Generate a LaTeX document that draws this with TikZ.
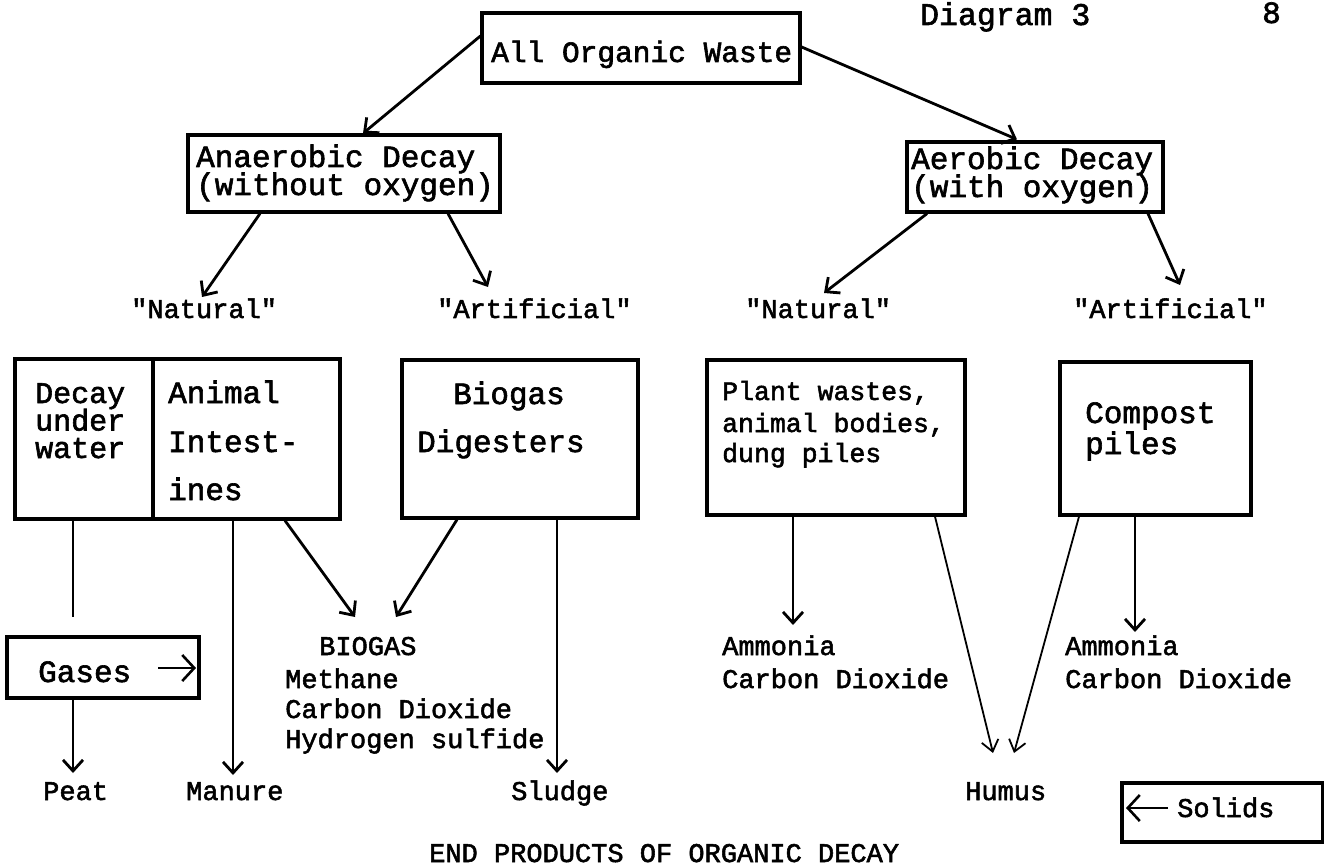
\documentclass[tikz,border=0pt]{standalone}
\usepackage{fontspec}
\newfontfamily\twfont[FakeBold=2]{Liberation Mono}
\usetikzlibrary{arrows.meta,calc}
\newcommand\picafont{\twfont\fontsize{31}{31}\selectfont}
\newcommand\elitefont{\twfont\fontsize{27}{27}\selectfont}
\begin{document}
\begin{tikzpicture}[x=1pt,y=-1pt,
  box/.style={draw, line width=3.2pt, inner sep=0pt},
  lbl/.style={inner sep=0pt, anchor=base west},
  pl/.style={lbl, font=\picafont},
  el/.style={lbl, font=\elitefont},
  arr/.style={line width=2.8pt, -{Straight Barb[length=11pt,width=20pt]}},
  thinarr/.style={line width=1.8pt, -{Straight Barb[length=11pt,width=17pt]}},
  symarr/.style={line width=2.6pt, -{Straight Barb[length=12pt,width=26pt]}},
  plainline/.style={line width=2.8pt}]
\useasboundingbox (0,0) rectangle (1324,866);

% title
\node[lbl, font=\twfont\fontsize{31.5}{31.5}\selectfont] (tdia) at (920,25) {Diagram 3};
\node[pl] (tpage) at (1262,23) {8};

% boxes
\node[box, minimum width=318pt, minimum height=70pt] (aow) at (641,48) {};
\node[box, minimum width=312pt, minimum height=77pt] (ana) at (344,173.5) {};
\node[box, minimum width=256pt, minimum height=70pt] (aer) at (1035,177) {};
\node[box, minimum width=138pt, minimum height=160pt] (duw) at (84,439) {};
\node[box, minimum width=187pt, minimum height=160pt] (ani) at (246.5,439) {};
\node[box, minimum width=236pt, minimum height=158pt] (bgd) at (520,439) {};
\node[box, minimum width=258pt, minimum height=155pt] (pla) at (836,437.5) {};
\node[box, minimum width=191pt, minimum height=153pt] (com) at (1155.5,438.5) {};
\node[box, minimum width=192pt, minimum height=61pt] (gas) at (103,667.5) {};
\node[box, minimum width=201pt, minimum height=59pt] (sol) at (1222.5,812.5) {};

% box texts
\node[lbl, font=\twfont\fontsize{29.5}{29.5}\selectfont] (taow) at (491,62) {All Organic Waste};
\node[pl] (tana1) at (196,167) {Anaerobic Decay};
\node[pl] (tana2) at (196,195) {(without oxygen)};
\node[pl] (taer1) at (911,169) {Aerobic Decay};
\node[pl] (taer2) at (911,197) {(with oxygen)};
\node[lbl, font=\twfont\fontsize{30}{30}\selectfont] (tduw1) at (35,403) {Decay};
\node[lbl, font=\twfont\fontsize{30}{30}\selectfont] (tduw2) at (35,430.5) {under};
\node[lbl, font=\twfont\fontsize{30}{30}\selectfont] (tduw3) at (35,458) {water};
\node[pl] (tani1) at (168,403) {Animal};
\node[pl] (tani2) at (168,452) {Intest-};
\node[pl] (tani3) at (168,500) {ines};
\node[pl] (tbgd1) at (453,404) {Biogas};
\node[pl] (tbgd2) at (417,452) {Digesters};
\node[lbl, font=\twfont\fontsize{26.5}{26.5}\selectfont] (tpla1) at (722,400) {Plant wastes,};
\node[lbl, font=\twfont\fontsize{26.5}{26.5}\selectfont] (tpla2) at (722,432) {animal bodies,};
\node[lbl, font=\twfont\fontsize{26.5}{26.5}\selectfont] (tpla3) at (722,462) {dung piles};
\node[pl] (tcom1) at (1085,423) {Compost};
\node[pl] (tcom2) at (1085,454) {piles};
\node[pl] (tgas) at (38,682) {Gases};
\node[el] (tsol) at (1177,817) {Solids};

% labels
\node[el] (natL) at (131,318) {"Natural"};
\node[el] (artL) at (437,318) {"Artificial"};
\node[el] (natR) at (745,318) {"Natural"};
\node[el] (artR) at (1073,318) {"Artificial"};

% end products
\node[el] (bg) at (319,655) {BIOGAS};
\node[el] (bg2) at (285,688) {Methane};
\node[el] (bg3) at (285,718) {Carbon Dioxide};
\node[el] (bg4) at (285,748) {Hydrogen sulfide};
\node[el] (amm1) at (722,655) {Ammonia};
\node[el] (amm1b) at (722,688) {Carbon Dioxide};
\node[el] (amm2) at (1065,655) {Ammonia};
\node[el] (amm2b) at (1065,688) {Carbon Dioxide};
\node[el] (peat) at (43,800) {Peat};
\node[el] (manure) at (186,800) {Manure};
\node[el] (sludge) at (511,800) {Sludge};
\node[el] (humus) at (965,800) {Humus};
\node[el] (caption) at (429,862) {END PRODUCTS OF ORGANIC DECAY};

% connectors
\draw[arr] ($(aow.west)+(0,-12)$) -- ($(ana.north)+(19,0)$);
\draw[arr] ($(aow.east)+(0,-1)$) -- ($(aer.north)+(-18,-1)$);
\draw[arr] ($(ana.south)+(-84,0)$) -- ($(natL.base west)+(71,-21)$);
\draw[arr] ($(ana.south)+(104,0)$) -- ($(artL.base west)+(51,-31)$);
\draw[arr] ($(aer.south)+(-108,0)$) -- ($(natR.base west)+(79,-25)$);
\draw[arr] ($(aer.south)+(113,0)$) -- ($(artR.base west)+(107,-33)$);

\coordinate (gq) at (73,617);
\draw[plainline] ($(duw.south)+(-11,0)$) -- (gq);
\draw[arr] ($(gas.south)+(-30,0)$) -- ($(peat.base west)+(30,-27)$);
\draw[arr] ($(ani.south)+(-13.5,0)$) -- ($(manure.base west)+(47,-25)$);
\draw[arr] ($(ani.south)+(38.5,0)$) -- ($(bg.base west)+(36,-38)$);
\draw[arr] ($(bgd.south)+(-63,0)$) -- ($(bg.base west)+(77,-38)$);
\draw[arr] ($(bgd.south)+(37,0)$) -- ($(sludge.base west)+(46,-27)$);
\draw[arr] ($(pla.south)+(-43,0)$) -- ($(amm1.base west)+(71,-30)$);
\draw[thinarr] ($(pla.south)+(99,0)$) -- ($(humus.base west)+(28,-47)$);
\draw[thinarr] ($(com.south)+(-76.5,0)$) -- ($(humus.base west)+(49,-47)$);
\draw[arr] ($(com.south)+(-20.5,0)$) -- ($(amm2.base west)+(70,-23)$);

% arrows inside boxes
\draw[symarr] ($(gas.center)+(55,0.5)$) -- ($(gas.center)+(93,0.5)$);
\draw[symarr] ($(sol.center)+(-54.5,-4.5)$) -- ($(sol.center)+(-96.5,-4.5)$);
\end{tikzpicture}
\end{document}
